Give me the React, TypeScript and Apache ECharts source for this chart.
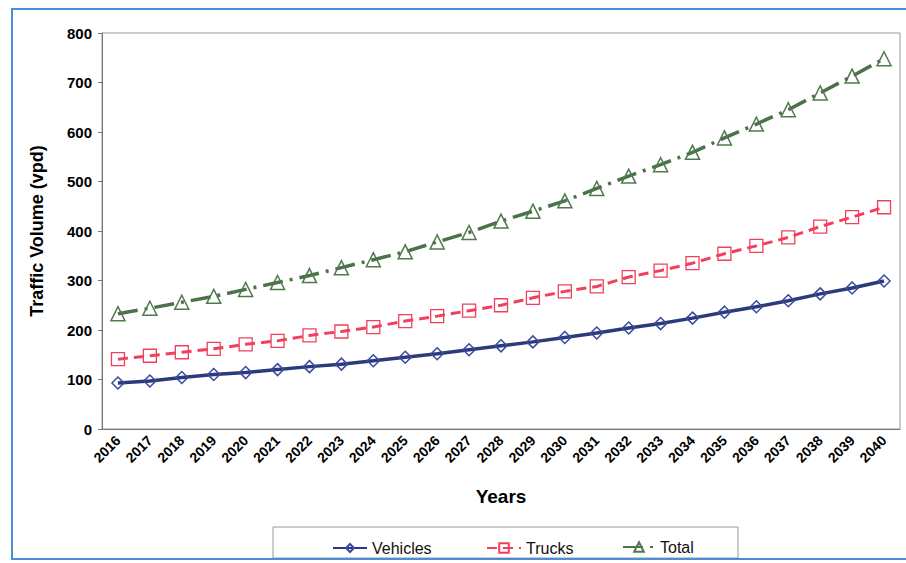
import React, { useEffect, useRef } from "react";
import * as echarts from "echarts";

const years = [
  "2016", "2017", "2018", "2019", "2020", "2021", "2022", "2023", "2024", "2025",
  "2026", "2027", "2028", "2029", "2030", "2031", "2032", "2033", "2034", "2035",
  "2036", "2037", "2038", "2039", "2040",
];
const vehicles = [93, 97, 104, 110, 114, 120, 126, 131, 138, 145, 152, 160, 168, 176, 185, 194, 204, 213, 224, 236, 247, 259, 273, 285, 299];
const trucks = [141, 148, 155, 162, 171, 178, 189, 197, 206, 218, 228, 239, 250, 265, 278, 288, 307, 320, 335, 354, 370, 387, 409, 428, 448];
const total = [233, 244, 256, 268, 282, 296, 310, 326, 342, 358, 378, 397, 420, 440, 461, 486, 511, 534, 559, 588, 616, 645, 679, 713, 748];
const yTicks = { min: 0, max: 800, interval: 100 };

const NAVY = "#2b3a7a";
const RED = "#f2405c";
const GREEN = "#4b7249";
const FONT = "Liberation Sans, Arial, sans-serif";

export default function App() {
  const ref = useRef<HTMLDivElement>(null);
  useEffect(() => {
    if (!ref.current) return;
    const chart = echarts.init(ref.current, null, { renderer: "svg" });
    const legendText = { fontFamily: FONT, fontSize: 16, color: "#111" };
    chart.setOption({
      animation: false,
      backgroundColor: "#fff",
      grid: {
        left: 102,
        right: 6,
        top: 33,
        bottom: 134,
        show: true,
        borderColor: "#999",
        borderWidth: 1,
        backgroundColor: "transparent",
      },
      legend: [
        { data: ["Vehicles"], left: 327, top: 535, itemWidth: 34, itemHeight: 10, textStyle: legendText, itemGap: 4 },
        { data: ["Trucks"], left: 481, top: 535, itemWidth: 34, itemHeight: 12, textStyle: legendText, itemGap: 4 },
        { data: ["Total"], left: 617, top: 534, itemWidth: 32, itemHeight: 12, textStyle: legendText, itemGap: 4 },
      ],
      xAxis: {
        type: "category",
        data: years,
        name: "Years",
        nameLocation: "middle",
        nameGap: 58,
        nameTextStyle: { fontFamily: FONT, fontSize: 19, fontWeight: "bold", color: "#000" },
        axisLine: { lineStyle: { color: "#777", width: 1 } },
        axisTick: { inside: true, length: 4, lineStyle: { color: "#777" } },
        axisLabel: {
          rotate: 45,
          margin: 9,
          fontFamily: FONT,
          fontSize: 14,
          fontWeight: "bold",
          color: "#000",
          interval: 0,
        },
        splitLine: { show: false },
      },
      yAxis: {
        type: "value",
        min: yTicks.min,
        max: yTicks.max,
        interval: yTicks.interval,
        name: "Traffic Volume (vpd)",
        nameLocation: "middle",
        nameGap: 56,
        nameTextStyle: { fontFamily: FONT, fontSize: 18, fontWeight: "bold", color: "#000" },
        axisLine: { show: true, lineStyle: { color: "#777", width: 1 } },
        axisTick: { show: true, length: 4, lineStyle: { color: "#777" } },
        axisLabel: { fontFamily: FONT, fontSize: 15, fontWeight: "bold", color: "#000", margin: 10 },
        splitLine: { show: false },
      },
      series: [
        {
          name: "Vehicles",
          type: "line",
          data: vehicles,
          color: NAVY,
          symbol: "diamond",
          symbolSize: 12,
          lineStyle: { color: NAVY, width: 3.5, type: "solid" },
          itemStyle: { color: "rgba(255,255,255,0)", borderColor: "#3a4aa0", borderWidth: 1.5 },
          z: 3,
        },
        {
          name: "Trucks",
          type: "line",
          data: trucks,
          color: RED,
          symbol: "rect",
          symbolSize: 13,
          lineStyle: { color: RED, width: 3, type: [10, 6] },
          itemStyle: { color: "rgba(255,255,255,0)", borderColor: RED, borderWidth: 1.3 },
          z: 2,
        },
        {
          name: "Total",
          type: "line",
          data: total,
          color: GREEN,
          symbol: "triangle",
          symbolSize: 14,
          lineStyle: { color: GREEN, width: 3.5, type: [20, 7, 3, 7] },
          itemStyle: { color: "rgba(255,255,255,0)", borderColor: "#4f7a4d", borderWidth: 1.5 },
          z: 2,
        },
      ],
      graphic: [
        {
          type: "rect",
          shape: { x: 273, y: 527, width: 465, height: 31 },
          style: { fill: "none", stroke: "#999", lineWidth: 1 },
          silent: true,
        },
        {
          type: "rect",
          shape: { x: 12, y: 9, width: 900, height: 550 },
          style: { fill: "none", stroke: "#4a8fd6", lineWidth: 2 },
          silent: true,
        },
      ],
    });
    return () => chart.dispose();
  }, []);
  return (
    <div
      ref={ref}
      style={{ position: "absolute", left: 0, top: 0, width: 906, height: 563 }}
    />
  );
}
